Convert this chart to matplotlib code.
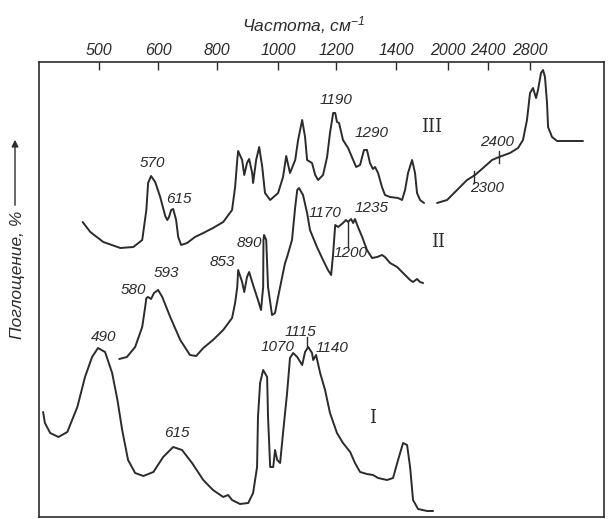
import numpy as np
import matplotlib.pyplot as plt

# Шкала частот (неравномерная, как на рисунке)
ticks = [500, 600, 800, 1000, 1200, 1400, 2000, 2400, 2800]
tick_labels = [str(t) for t in ticks]
# опорные точки шкалы: частота -> положение на оси
anch_w = [0, 400, 500, 600, 800, 1000, 1200, 1400, 2000, 2400, 2800, 3200, 3600, 10000]
anch_p = [-196, 40, 99, 158, 217, 278, 336, 396, 448, 488, 530, 571, 612, 1268]

# Спектр III (разрыв между 1723 и 1873)
w3 = [472, 485, 507, 536, 558, 573, 580, 583, 588, 595, 607, 624, 631, 637, 644, 651, 661, 668, 678,
      698, 725, 753, 786, 820, 849, 859, 866, 869, 882, 889, 898, 905, 915, 918, 928, 938, 948, 957,
      974, 1000, 1017, 1028, 1041, 1059, 1069, 1083, 1093, 1100, 1117, 1128, 1138, 1155, 1169, 1179,
      1190, 1197, 1203, 1210, 1223, 1240, 1257, 1267, 1280, 1293, 1303, 1313, 1323, 1330, 1340, 1353,
      1363, 1380, 1423, 1469, 1504, 1538, 1585, 1619, 1642, 1677, 1723, np.nan,
      1873, 1989, 2090, 2190, 2270, 2350, 2438, 2505, 2609, 2686, 2733, 2771, 2800, 2829, 2859, 2878,
      2907, 2927, 2946, 2966, 2976, 3015, 3064, 3161, 3317]
a3 = [298, 288, 278, 272, 273, 280, 310, 337, 344, 338, 323, 304, 300, 303, 310, 311, 300, 283, 275,
      277, 283, 287, 292, 298, 310, 333, 360, 369, 360, 345, 357, 361, 347, 337, 360, 373, 353, 327,
      320, 327, 343, 364, 347, 360, 380, 400, 383, 360, 357, 345, 340, 345, 363, 387,
      407, 407, 398, 397, 380, 372, 360, 353, 355, 370, 370, 357, 351, 353, 347, 333,
      325, 323, 322, 320, 330, 347, 360, 347, 327, 320, 317, np.nan,
      317, 320, 330, 340, 345, 352, 360, 363, 367, 372, 380, 400, 427, 432, 422, 430,
      447, 450, 443, 417, 393, 383, 379, 379, 379]

# Спектр II
w2 = [534, 547, 561, 573, 578, 580, 583, 588, 593, 600, 614, 641, 675, 708, 729, 753, 786, 820, 849,
      859, 866, 869, 882, 889, 898, 905, 918, 934, 944, 951, 952, 954, 961, 967, 980, 990, 1000, 1014,
      1024, 1031, 1048, 1059, 1066, 1072, 1086, 1100, 1110, 1134, 1155, 1172, 1183, 1190, 1197, 1207,
      1223, 1233, 1240, 1250, 1257, 1263, 1273, 1287, 1303, 1320, 1337, 1353, 1363, 1380, 1412, 1481,
      1562, 1596, 1642, 1677, 1712]
a2 = [161, 163, 173, 193, 213, 222, 223, 221, 227, 230, 223, 203, 180, 165, 164, 172, 180, 190, 202,
      217, 233, 250, 238, 228, 243, 248, 235, 220, 210, 233, 280, 285, 280, 233, 205, 207, 223, 243,
      257, 263, 280, 313, 330, 332, 325, 307, 290, 273, 260, 250, 245, 267, 295, 293,
      297, 300, 298, 301, 297, 301, 293, 283, 270, 262, 263, 265, 263, 257, 253, 247,
      240, 238, 241, 238, 237]

# Спектр I
w1 = [405, 408, 417, 431, 446, 463, 476, 488, 498, 510, 522, 531, 539, 549, 561, 575, 592, 617, 651,
      681, 715, 753, 786, 820, 836, 849, 875, 902, 918, 931, 934, 941, 951, 964, 967, 974, 984, 990,
      997, 1007, 1017, 1031, 1041, 1052, 1066, 1083, 1093, 1104, 1117, 1121, 1131, 1145, 1162, 1179,
      1203, 1223, 1247, 1263, 1280, 1303, 1323, 1340, 1370, 1390, 1423, 1481, 1527, 1562, 1596, 1654,
      1758, 1827]
a1 = [108, 97, 87, 83, 88, 113, 143, 163, 172, 168, 147, 120, 90, 60, 47, 44, 48, 63, 73,
      70, 57, 40, 30, 23, 25, 20, 16, 17, 27, 53, 103, 137, 150, 143, 103, 53, 53, 70,
      60, 57, 87, 127, 162, 167, 163, 155, 168, 173, 167, 160, 165, 147, 130, 107,
      87, 77, 68, 57, 48, 46, 45, 42, 40, 42, 60, 77, 75, 53, 20, 11,
      9, 9]

# Подписи полос: текст, частота, уровень
peak_text = ['570', '615', '1190', '1290', '2400', '2300',
             '580', '593', '853', '890', '1170', '1235', '1200',
             '490', '615', '1070', '1115', '1140']
peak_w = [590, 671, 1200, 1317, 2486, 2390,
          558, 627, 816, 905, 1162, 1320, 1250,
          507, 664, 1000, 1076, 1186]
peak_a = [357, 321, 420, 387, 378, 332,
          230, 247, 258, 277, 307, 312, 267,
          183, 87, 173, 188, 172]

curve_names = ['III', 'II', 'I']
name_w = [1815, 1885, 1320]
name_a = [393, 278, 102]

# короткие чёрточки-отметки: частота, от, до
mark_w = [2260, 2505, 1240, 1100]
mark_a0 = [337, 357, 273, 173]
mark_a1 = [349, 369, 298, 183]

ink = '#2b2b2b'
plt.rcParams['font.family'] = ['Liberation Sans', 'DejaVu Sans']
plt.rcParams['font.style'] = 'italic'
plt.rcParams['mathtext.fontset'] = 'custom'
plt.rcParams['mathtext.it'] = 'Liberation Sans:italic'
plt.rcParams['mathtext.rm'] = 'Liberation Sans:italic'

fig = plt.figure(figsize=(6.09, 5.19), dpi=100)
ax = fig.add_axes([39 / 609, 2 / 519, 565 / 609, 455 / 519])

fwd = lambda x: np.interp(x, anch_w, anch_p)
inv = lambda p: np.interp(p, anch_p, anch_w)
ax.set_xscale('function', functions=(fwd, inv))

for w, a in [(w3, a3), (w2, a2), (w1, a1)]:
    ax.plot(w, a, color=ink, lw=1.4, solid_joinstyle='round', solid_capstyle='round')

for t, x, y in zip(peak_text, peak_w, peak_a):
    ax.text(x, y, t, ha='center', va='center', fontsize=11, color=ink)
for t, x, y in zip(curve_names, name_w, name_a):
    ax.text(x, y, t, ha='center', va='center', fontsize=13, color=ink,
            family='DejaVu Serif', style='normal')
for x, y0, y1 in zip(mark_w, mark_a0, mark_a1):
    ax.plot([x, x], [y0, y1], color=ink, lw=1.0)

ax.set_xlim(398, 3522)
ax.set_ylim(3, 458)
ax.xaxis.tick_top()
ax.set_xticks(ticks)
ax.set_xticklabels(tick_labels)
ax.set_yticks([])
ax.tick_params(axis='x', direction='in', length=6, width=1, pad=3, labelsize=11.5,
               colors=ink)
for s in ax.spines.values():
    s.set_color(ink)
    s.set_linewidth(1.2)

fig.text(304 / 609, 1 - 25 / 519, 'Частота, см$^{-1}$', ha='center', va='center',
         fontsize=12.5, color=ink)
fig.text(18 / 609, 1 - 275 / 519, 'Поглощение, %', rotation=90, ha='center', va='center',
         fontsize=12.5, color=ink)
fig.add_artist(plt.Annotation('', xy=(15 / 609, 1 - 137 / 519), xytext=(15 / 609, 1 - 208 / 519),
                              xycoords='figure fraction', textcoords='figure fraction',
                              arrowprops=dict(arrowstyle='-|>', color=ink, lw=1.0,
                                              mutation_scale=10)))

fig.savefig('out.png', dpi=100, facecolor='white')
